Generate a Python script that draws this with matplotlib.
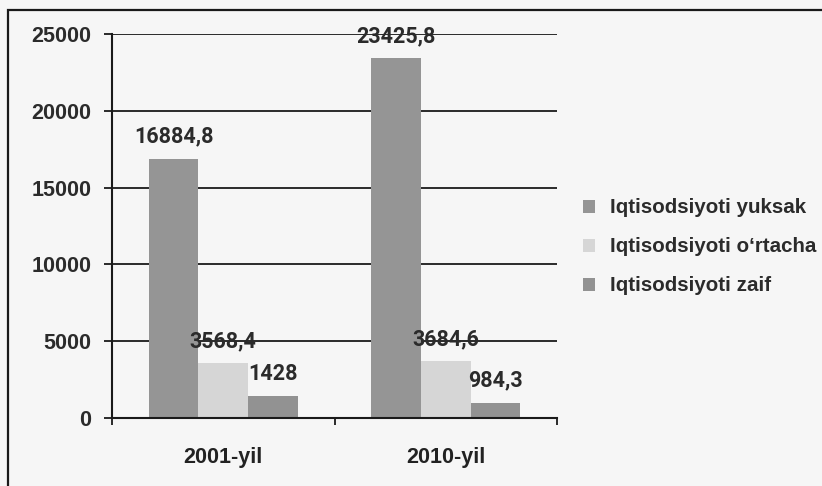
import matplotlib
matplotlib.use("Agg")
import matplotlib.pyplot as plt
from matplotlib.patches import Rectangle
import numpy as np

# Data
years = ["2001-yil", "2010-yil"]
series_names = ["Iqtisodsiyoti yuksak", "Iqtisodsiyoti o\u2018rtacha", "Iqtisodsiyoti zaif"]
yuksak = [16884.8, 23425.8]
ortacha = [3568.4, 3684.6]
zaif = [1428, 984.3]
yticks = [0, 5000, 10000, 15000, 20000, 25000]

series = [yuksak, ortacha, zaif]
colors = ["#959595", "#d6d6d6", "#929292"]

W, H = 822, 486
fig = plt.figure(figsize=(W / 100, H / 100), dpi=100, facecolor="#f6f6f6")
ax = fig.add_axes([112 / W, 68 / H, 445 / W, 384 / H])
ax.set_facecolor("none")

x = np.arange(len(years))
bw = 0.2225
offsets = [-bw, 0, bw]

def fmt(v):
    s = f"{v:.1f}".rstrip("0").rstrip(".")
    return s.replace(".", ",")

label_font = dict(family=["Roboto", "DejaVu Sans"], fontweight="bold",
                  fontsize=15.5, color="#2b2b2b")

for vals, off, col, name in zip(series, offsets, colors, series_names):
    ax.bar(x + off, vals, width=bw, color=col, zorder=2, label=name,
           edgecolor="none")
    for xi, v in zip(x + off, vals):
        ax.annotate(fmt(v), (xi, v), xytext=(0, 8), textcoords="offset points",
                    ha="center", va="bottom", zorder=4, **label_font)

ax.set_xlim(-0.5, 1.5)
ax.set_ylim(0, 25000)

# Horizontal gridlines
ax.set_yticks(yticks)
ax.set_yticklabels([str(t) for t in yticks],
                   fontfamily="Liberation Sans", fontweight="bold",
                   fontsize=15.5, color="#2b2b2b")
ax.yaxis.grid(True, color="#1a1a1a", linewidth=1.3)
for gl in ax.get_ygridlines():
    gl.set_zorder(1)
ax.tick_params(axis="y", direction="out", length=6, width=1.3,
               color="#1a1a1a", pad=9)

# Category axis: ticks at group boundaries, labels at group centres
ax.set_xticks([-0.5, 0.5, 1.5])
ax.set_xticklabels(["", "", ""])
ax.tick_params(axis="x", which="major", direction="out", length=5,
               width=1.3, color="#1a1a1a")
ax.set_xticks(x, minor=True)
ax.set_xticklabels(years, minor=True, fontfamily="Liberation Sans",
                   fontweight="bold", fontsize=15.5, color="#222222")
ax.tick_params(axis="x", which="minor", length=0, pad=21)

for s in ["top", "right"]:
    ax.spines[s].set_visible(False)
for s in ["left", "bottom"]:
    ax.spines[s].set_color("#1a1a1a")
    ax.spines[s].set_linewidth(1.5)
    ax.spines[s].set_zorder(3)

leg = ax.legend(loc="center left", bbox_to_anchor=(583 / W, 0.492),
                bbox_transform=fig.transFigure, frameon=False,
                prop=dict(family="Liberation Sans", weight="bold", size=14.8),
                handlelength=0.6, handleheight=0.6, handletextpad=0.7,
                labelspacing=0.97, borderpad=0, borderaxespad=0)
for t in leg.get_texts():
    t.set_color("#2b2b2b")

# Outer chart frame
fig.patches.append(Rectangle((8 / W, -0.1), 1.2, (H - 10) / H + 0.1,
                             transform=fig.transFigure, fill=False,
                             edgecolor="#1a1a1a", linewidth=1.6))

fig.savefig("out.png", dpi=100, facecolor=fig.get_facecolor())
